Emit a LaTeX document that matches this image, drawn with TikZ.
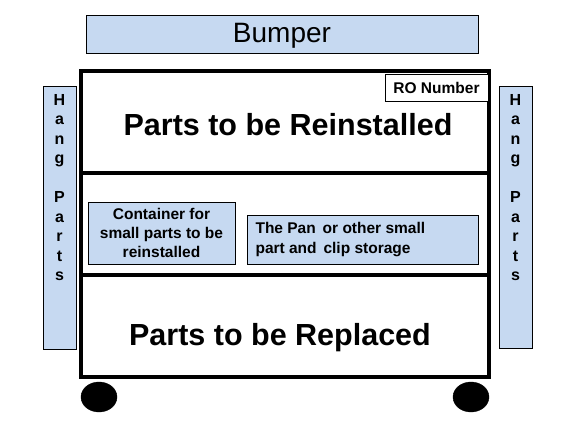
\documentclass[tikz,border=0pt]{standalone}
\usepackage{fontspec}
\setmainfont{Liberation Sans}
\usetikzlibrary{positioning}
\definecolor{partblue}{RGB}{198,217,241}
\tikzset{
  bluebox/.style={draw=black, line width=0.9pt, fill=partblue, inner sep=0pt},
  shelf/.style={draw=black, line width=3.2pt, inner sep=0pt},
  bigtext/.style={font=\bfseries\fontsize{30.5}{34}\selectfont},
  smalltext/.style={font=\bfseries\fontsize{15.5}{19}\selectfont},
  hangtext/.style={font=\bfseries\fontsize{16}{19.5}\selectfont, align=center, inner sep=0pt}
}

\begin{document}
\begin{tikzpicture}[x=1pt, y=-1pt]
		%%%%% START %%%%%
		\useasboundingbox (0, 0) rectangle (569, 433);
		
		% bumper on top
		\node[bluebox, minimum width=392pt, minimum height=38pt] (bumper) at (282, 34) {};
		\node[font=\fontsize{28}{32}\selectfont] (bumpertext) at (282, 36) {Bumper};
		
		% the three shelves of the cart
		\node[shelf, minimum width=408pt, minimum height=102pt] (upper) at (285, 122) {};
		\node[shelf, minimum width=408pt, minimum height=102pt] (middle) at (285, 224) {};
		\node[shelf, minimum width=408pt, minimum height=102pt] (lower) at (285, 326) {};
		
		\node[draw=black, line width=0.9pt, fill=white, minimum width=103pt, minimum height=27pt, inner sep=0pt, font=\bfseries\fontsize{15.5}{18}\selectfont] (ronumber) at (436.5, 87.5) {RO Number};
		
		\node[bigtext] (reinstalled) at (288, 125) {Parts to be Reinstalled};
		\node[bigtext] (replaced) at (280, 338) {Parts to be Replaced};
		
		% small part boxes
		\node[bluebox, minimum width=147pt, minimum height=62pt] (container) at (161.5, 233) {};
		\node[smalltext, align=center] (containertext) at (container.center) {Container for\\small parts to be\\reinstalled};
		\node[bluebox, minimum width=231pt, minimum height=49pt] (pan) at (362.5, 239.5) {};
		\node[smalltext, font=\bfseries\fontsize{15.5}{20}\selectfont, align=left, anchor=west] (pantext) at (252, 240) {The Pan\, or other small\\part and\, clip storage};
		
		% hang parts on both sides
		\node[bluebox, minimum width=33pt, minimum height=263pt] (hangleft) at (59.5, 217.5) {};
		\node[bluebox, minimum width=33pt, minimum height=262pt] (hangright) at (515.5, 217) {};
		\node[hangtext, anchor=north] (hangtextleft) at (59.5, 94) {H\\a\\n\\g\\[19.5pt]P\\a\\r\\t\\s};
		\node[hangtext, anchor=north] (hangtextright) at (515.5, 94) {H\\a\\n\\g\\[19.5pt]P\\a\\r\\t\\s};
		
		% wheels
		\draw[fill=black] (99, 397) ellipse (18 and 15);
		\draw[fill=black] (471, 397) ellipse (18 and 15);
		
		%%%%% END %%%%%
	\end{tikzpicture}
\end{document}
